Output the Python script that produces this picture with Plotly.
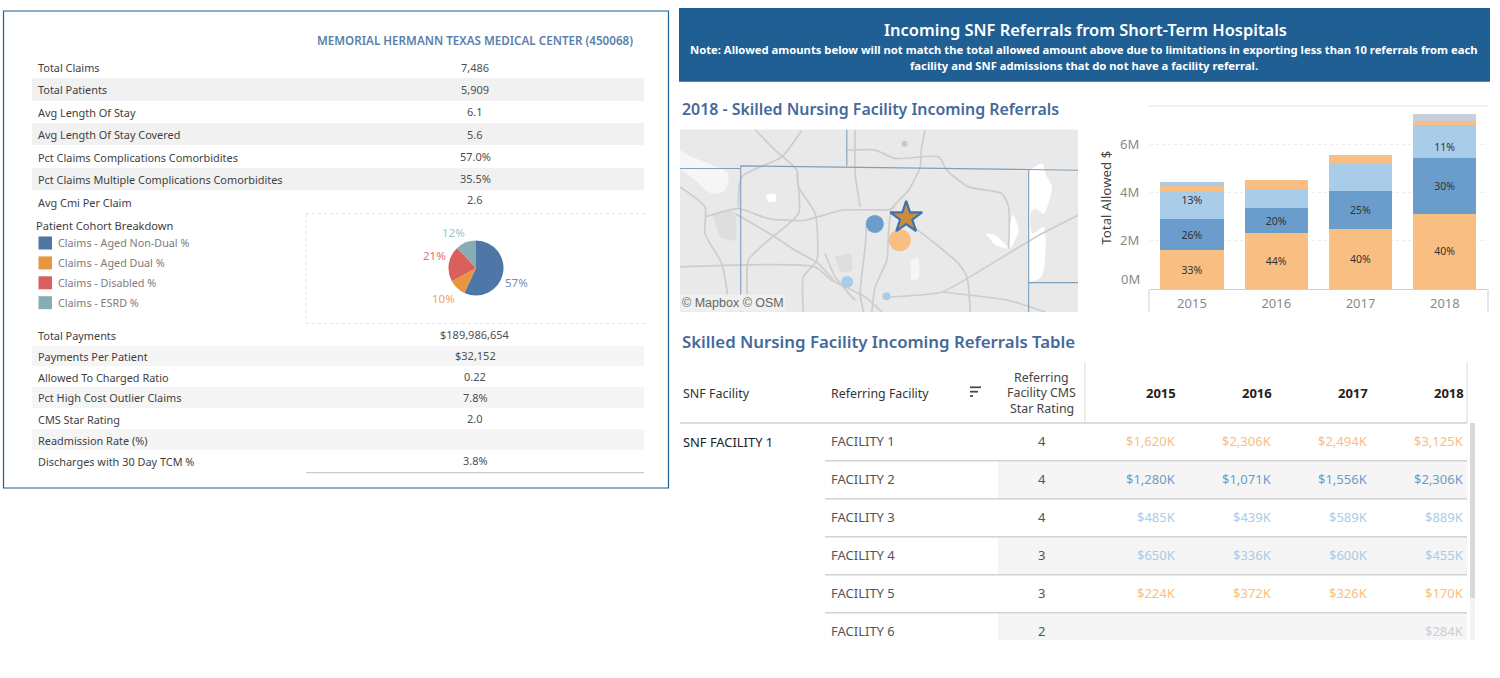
import plotly.graph_objects as go

W = 1500
H = 678
FONT = "Noto Sans"
TITLE_BLUE = "#44699b"
GREY_TEXT = "#505050"

# left panel
hospital = "MEMORIAL HERMANN TEXAS MEDICAL CENTER (450068)"
top_labels = ["Total Claims", "Total Patients", "Avg Length Of Stay", "Avg Length Of Stay Covered",
              "Pct Claims Complications Comorbidites", "Pct Claims Multiple Complications Comorbidites",
              "Avg Cmi Per Claim"]
top_values = ["7,486", "5,909", "6.1", "5.6", "57.0%", "35.5%", "2.6"]
bottom_labels = ["Total Payments", "Payments Per Patient", "Allowed To Charged Ratio",
                 "Pct High Cost Outlier Claims", "CMS Star Rating", "Readmission Rate (%)",
                 "Discharges with 30 Day TCM %"]
bottom_values = ["$189,986,654", "$32,152", "0.22", "7.8%", "2.0", "", "3.8%"]
cohort_names = ["Claims - Aged Non-Dual %", "Claims - Aged Dual %", "Claims - Disabled %", "Claims - ESRD %"]
cohort_values = [57, 10, 21, 12]
cohort_colors = ["#4e76a6", "#e9943f", "#d9605c", "#86adb3"]

# stacked bars / table, $K
years = ["2015", "2016", "2017", "2018"]
facilities = ["FACILITY 1", "FACILITY 2", "FACILITY 3", "FACILITY 4", "FACILITY 5", "FACILITY 6"]
stars = [4, 4, 4, 3, 3, 2]
facility_1 = [1620, 2306, 2494, 3125]
facility_2 = [1280, 1071, 1556, 2306]
facility_3 = [485, 439, 589, 889]
facility_4 = [650, 336, 600, 455]
facility_5 = [224, 372, 326, 170]
facility_6 = [None, None, None, 284]
facility_other = [155, None, None, None]  # scrolled out of the table
pct_1 = ["33%", "44%", "40%", "40%"]
pct_2 = ["26%", "20%", "25%", "30%"]
pct_3 = ["", "", "", "11%"]
pct_4 = ["13%", "", "", ""]
ORANGE = "#f9be82"
BLUE = "#6a9dcb"
LIGHT = "#a9cce8"
GREY = "#c9cfd8"

# map, in map units
roads = [
    [(240, 388), (300, 450), (365, 510), (370, 560), (420, 640), (425, 780), (385, 830), (385, 935)],
    [(90, 650), (190, 625), (280, 655), (390, 660), (500, 630), (640, 628), (660, 620)],
    [(750, 388), (738, 450), (735, 500), (700, 570), (650, 625), (640, 700), (635, 780), (600, 860), (590, 935)],
    [(515, 450), (600, 450), (660, 475), (790, 470), (815, 510), (880, 560), (980, 580), (1000, 620), (1000, 745)],
    [(715, 680), (780, 730), (850, 790), (875, 830), (885, 935)],
    [(575, 660), (570, 740), (555, 880), (565, 935)],
    [(540, 388), (540, 520), (555, 620)],
    [(640, 890), (800, 875), (900, 820), (1100, 700), (1208, 645)],
    [(15, 800), (420, 800), (470, 840), (570, 890), (620, 935)],
    [(180, 640), (300, 710), (360, 750), (430, 790), (475, 840)],
    [(15, 560), (90, 620), (90, 700), (140, 790), (165, 935)],
    [(380, 390), (320, 470), (200, 530), (190, 620)],
    [(220, 935), (220, 780), (280, 720), (370, 640), (365, 520)],
    [(800, 875), (1000, 900), (1110, 935)],
    [(450, 760), (480, 830), (540, 900)],
]
borders = [
    [(15, 505), (197, 505)],
    [(197, 935), (197, 497), (1060, 508), (1208, 510)],
    [(1060, 508), (1060, 935)],
    [(515, 388), (515, 497)],
    [(1060, 847), (1208, 847)],
]
lakes = [
    [(1062, 512), (1100, 490), (1112, 525), (1130, 560), (1105, 640), (1080, 625), (1066, 640), (1072, 700),
     (1105, 680), (1110, 770), (1098, 830), (1062, 845)],
    [(1012, 640), (1030, 690), (1003, 745), (1000, 690)],
    [(930, 700), (960, 705), (1000, 745), (960, 735)],
    [(272, 585), (300, 580), (302, 602), (280, 605)],
]
pale_patches = [
    [(15, 450), (50, 470), (100, 490), (160, 520), (150, 570), (110, 580), (60, 540), (15, 505)],
    [(705, 780), (728, 775), (730, 835), (708, 838)],
]
dark_patches = [
    [(110, 640), (175, 635), (180, 720), (135, 710)],
    [(480, 770), (525, 760), (530, 810), (495, 815)],
]
map_x = [688, 599, 674, 516, 634]
map_y = [431, 671, 720, 845, 888]
map_size = [6, 18, 22, 12, 8]
map_color = ["#c0c9d6", BLUE, ORANGE, LIGHT, LIGHT]
star_x = [693]
star_y = [652]


def xp(px):
    return px / W


def yp(py):
    return 1 - py / H


annotations = []
shapes = []


def txt(x, y, s, size=11, color=GREY_TEXT, anchor="left", weight=400, family=FONT):
    annotations.append(dict(x=xp(x), y=yp(y), xref="paper", yref="paper", text=s, showarrow=False,
                            xanchor=anchor, yanchor="middle", borderpad=0, borderwidth=0,
                            font=dict(family=family, size=size, color=color, weight=weight)))


def rect(x0, y0, x1, y1, fill=None, line=None, width=1, dash="solid"):
    shapes.append(dict(type="rect", xref="paper", yref="paper", x0=xp(x0), x1=xp(x1), y0=yp(y0), y1=yp(y1),
                       fillcolor=fill, layer="below",
                       line=dict(color=line, width=width if line else 0, dash=dash)))


def hline(x0, x1, y, color="#d4d4d4", width=1, dash="solid"):
    shapes.append(dict(type="line", xref="paper", yref="paper", x0=xp(x0), x1=xp(x1), y0=yp(y), y1=yp(y),
                       layer="below", line=dict(color=color, width=width, dash=dash)))


def vline(x, y0, y1, color="#d4d4d4", width=1, dash="solid"):
    shapes.append(dict(type="line", xref="paper", yref="paper", x0=xp(x), x1=xp(x), y0=yp(y0), y1=yp(y1),
                       layer="below", line=dict(color=color, width=width, dash=dash)))


# left panel
rect(3.5, 11, 668.5, 488, line="#1b6193", width=1.2)
txt(475, 40.5, hospital, size=11.65, color="#5a7fab", anchor="center", weight=600)

top_text_y = [68, 90, 112.7, 135, 157, 179, 202]
top_value_y = [68, 90, 111.7, 134.7, 156, 178, 200]
for y0, y1 in [(78, 101), (123, 145), (168, 190)]:
    rect(32, y0, 644, y1, fill="#f1f1f1")
for label, value, ty, vy in zip(top_labels, top_values, top_text_y, top_value_y):
    txt(38, ty, label, size=10.9, color="#3e3e3e")
    txt(475, vy, value, anchor="center")

bottom_text_y = [335.7, 356.7, 377, 398, 419, 440, 461]
bottom_value_y = [334.7, 355.7, 376.7, 397, 418.7, 440, 460]
for y0, y1 in [(346, 366), (387, 408), (429, 450)]:
    rect(32, y0, 644, y1, fill="#f5f5f5")
for label, value, ty, vy in zip(bottom_labels, bottom_values, bottom_text_y, bottom_value_y):
    txt(38, ty, label, size=10.9, color="#3e3e3e")
    txt(475, vy, value, anchor="center")
hline(306, 644, 472.7, color="#cccccc", width=1.2)

txt(36, 225.2, "Patient Cohort Breakdown", size=11.1, color="#3e3e3e")
for i, (name, color) in enumerate(zip(cohort_names, cohort_colors)):
    cy = 243 + i * 19.9
    rect(38.5, cy - 6.5, 52, cy + 6.5, fill=color)
    txt(57.5, cy, name, size=10.75, color="#7b7b7b")
hline(306, 645, 213.5, color="#e4e4e4", dash="dot")
hline(306, 645, 323.5, color="#e4e4e4", dash="dot")
vline(306, 213.5, 323.5, color="#e4e4e4", dash="dot")
pie_label_px = [(516, 283), (443.6, 298), (435, 255.7), (454, 232.7)]
for (x, y), v, color in zip(pie_label_px, cohort_values,
                            ["#6f90b8", "#eda55c", "#e0726e", "#9cc4c8"]):
    txt(x, y, f"{v}%", size=11.5, color=color, anchor="center")

# banner
rect(679, 8, 1490, 81.7, fill="#1f5f94")
txt(1085.5, 30, "Incoming SNF Referrals from Short-Term Hospitals", size=16.45, color="white", anchor="center", weight=600)
txt(1083.5, 49.5, "Note: Allowed amounts below will not match the total allowed amount above due to limitations in exporting less than 10 referrals from each",
    size=11.25, color="white", anchor="center", weight=700)
txt(1083.5, 65.5, "facility and SNF admissions that do not have a facility referral.",
    size=11.25, color="white", anchor="center", weight=700)

# section titles
txt(682, 109, "2018 - Skilled Nursing Facility Incoming Referrals", size=15.9, color=TITLE_BLUE, weight=600)
txt(682, 341.5, "Skilled Nursing Facility Incoming Referrals Table", size=16.8, color=TITLE_BLUE, weight=600)

# map background
rect(680, 129.5, 1078, 312, fill="#e9e9e9")

# table
txt(683, 393, "SNF Facility", size=12.5, color="#333333")
txt(831, 393, "Referring Facility", size=12.4, color="#333333")
for cy, s in zip([377, 392, 408], ["Referring", "Facility CMS", "Star Rating"]):
    txt(1041.7, cy, s, size=12.4, color="#444444", anchor="center")
for y, x1 in [(387.3, 981), (391.7, 978), (396, 973)]:
    hline(970, x1, y, color="#444444", width=1.7)
vline(1085, 362, 423, color="#dddddd")
vline(1467, 362, 423, color="#dddddd")
hline(680, 1467, 423, color="#d0d0d0", width=1.5)

col_right = [1176, 1272, 1367.5, 1464]
for x, year in zip(col_right, years):
    txt(x, 393, year, size=13, color="#222222", anchor="right", weight=700)

row_y = [441 + i * 38 for i in range(len(facilities))]
rect(998, 461, 1467, 498.5, fill="#f5f5f5")
rect(998, 537, 1467, 574.5, fill="#f5f5f5")
rect(998, 613, 1467, 640, fill="#f5f5f5")
for y in row_y[:5]:
    hline(825, 1467, y + 19.7, color="#d2d2d2", width=1.6)
txt(682.5, 441.5, "SNF FACILITY 1", size=12.9, color="#222222")
rows = [facility_1, facility_2, facility_3, facility_4, facility_5, facility_6]
row_colors = [ORANGE, BLUE, LIGHT, LIGHT, ORANGE, GREY]
for name, star, vals, color, y in zip(facilities, stars, rows, row_colors, row_y):
    txt(831, y, name, size=13, color="#555555")
    txt(1041.7, y, str(star), size=13, color="#555555", anchor="center")
    for x, v in zip(col_right, vals):
        if v is not None:
            txt(x, y, f"${v:,}K", size=13, color=color, anchor="right")
rect(1470, 423, 1475, 640, fill="#f3f3f3")
rect(1470, 423, 1475, 598, fill="#d9d9d9")

# bar chart furniture
hline(1149, 1488, 106, color="#eeeeee", width=1.5)
vline(1149, 289.3, 312, color="#cfcfcf")
vline(1488, 289.3, 312, color="#cfcfcf")
txt(1140, 279.3, "0M", size=13, color="#8a8a8a", anchor="right")

fig = go.Figure()

bar_series = [
    (facilities[0], facility_1, ORANGE, pct_1),
    (facilities[1], facility_2, BLUE, pct_2),
    (facilities[2], facility_3, LIGHT, pct_3),
    (facilities[3], facility_4, LIGHT, pct_4),
    (facilities[4], facility_5, ORANGE, None),
    (facilities[5], facility_6, GREY, None),
    ("Other", facility_other, LIGHT, None),
]
for name, vals, color, labels in bar_series:
    fig.add_trace(go.Bar(
        name=name, x=years, y=[None if v is None else v * 1000 for v in vals],
        marker=dict(color=color, line=dict(width=0)),
        text=labels, textposition="inside" if labels else "none", insidetextanchor="middle",
        constraintext="none", textangle=0, textfont=dict(family=FONT, size=10.5, color="#333333"),
        xaxis="x", yaxis="y", showlegend=False,
    ))

for patches, color in [(pale_patches, "#f6f6f6"), (dark_patches, "#dedede"), (lakes, "white")]:
    for patch in patches:
        fig.add_trace(go.Scatter(x=[p[0] for p in patch], y=[p[1] for p in patch], mode="lines", fill="toself",
                                 fillcolor=color, line=dict(width=0, shape="spline", smoothing=0.7),
                                 xaxis="x2", yaxis="y2", showlegend=False))
for road in roads:
    fig.add_trace(go.Scatter(x=[p[0] for p in road], y=[p[1] for p in road], mode="lines",
                             line=dict(color="#cdcdcd", width=1.7, shape="spline", smoothing=0.6),
                             xaxis="x2", yaxis="y2", showlegend=False))
for border in borders:
    fig.add_trace(go.Scatter(x=[p[0] for p in border], y=[p[1] for p in border], mode="lines",
                             line=dict(color="#7f9fba", width=1.1), xaxis="x2", yaxis="y2", showlegend=False))
fig.add_trace(go.Scatter(x=map_x, y=map_y, mode="markers",
                         marker=dict(size=map_size, color=map_color, opacity=1, line=dict(width=0)),
                         xaxis="x2", yaxis="y2", showlegend=False))
fig.add_trace(go.Scatter(x=star_x, y=star_y, mode="markers",
                         marker=dict(symbol="star", size=24, color="#cd8b3e", line=dict(color="#3f74ab", width=2.2)),
                         xaxis="x2", yaxis="y2", showlegend=False))

fig.add_trace(go.Pie(
    labels=cohort_names, values=cohort_values, sort=False, direction="clockwise", rotation=0,
    marker=dict(colors=cohort_colors, line=dict(width=0)), textinfo="none", showlegend=False,
    domain=dict(x=[xp(448.5), xp(503.5)], y=[yp(295.5), yp(240.5)]),
))

# attribution sits on top of the map
annotations.append(dict(x=xp(680), y=yp(312), xref="paper", yref="paper", text="© Mapbox © OSM", showarrow=False,
                        xanchor="left", yanchor="bottom", bgcolor="#f0f0f0", borderpad=1,
                        font=dict(family="Liberation Sans", size=12.5, color="#666666")))

fig.update_layout(
    width=W, height=H, margin=dict(l=0, r=0, t=0, b=0), autosize=False,
    paper_bgcolor="white", plot_bgcolor="rgba(0,0,0,0)",
    barmode="stack", bargap=0.25, hovermode=False,
    font=dict(family=FONT),
    xaxis=dict(domain=[xp(1149.8), xp(1487)], showgrid=False, showline=True, linecolor="#cccccc", linewidth=1,
               ticks="outside", ticklen=2, tickcolor="white", tickfont=dict(size=13, color="#8a8a8a", family=FONT)),
    yaxis=dict(domain=[yp(289.3), yp(106)], range=[0, 7.574e6], tickvals=[0, 2e6, 4e6, 6e6],
               ticktext=["", "2M", "4M", "6M"], showline=False, zeroline=False,
               gridcolor="#eeeeee", griddash="dot", ticks="outside", ticklen=7, tickcolor="white",
               tickfont=dict(size=13, color="#8a8a8a", family=FONT),
               title=dict(text="Total Allowed $", font=dict(size=13.3, color="#444444", family=FONT), standoff=5)),
    xaxis2=dict(domain=[xp(680), xp(1078)], range=[15, 1208], visible=False, fixedrange=True),
    yaxis2=dict(domain=[yp(312), yp(129.5)], range=[935, 388], visible=False, fixedrange=True),
    shapes=shapes, annotations=annotations,
)

fig.write_html("out.html", config={"displayModeBar": False},
               post_script="document.body.style.margin='0';document.body.style.overflow='hidden';")
